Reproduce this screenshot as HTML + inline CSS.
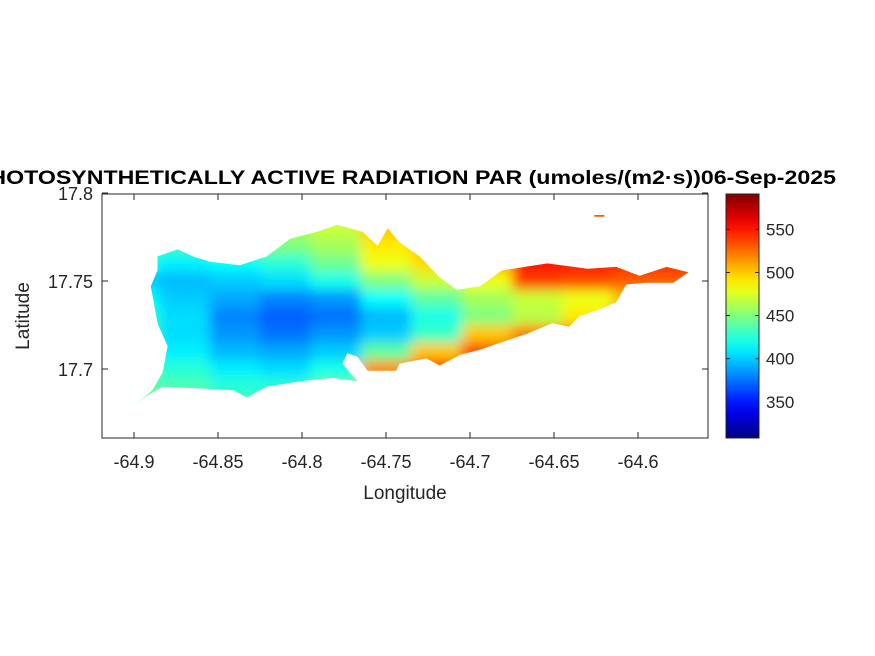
<!DOCTYPE html>
<html><head><meta charset="utf-8"><style>
html,body{margin:0;padding:0;background:#fff;width:875px;height:656px;overflow:hidden}
text{font-family:"Liberation Sans",Arial,sans-serif;fill:#262626}
</style></head><body>
<svg id="chart" width="875" height="656" viewBox="0 0 875 656" xmlns="http://www.w3.org/2000/svg">
<defs>
<filter id="blur" x="-10%" y="-10%" width="120%" height="120%"><feGaussianBlur stdDeviation="6" edgeMode="duplicate"/></filter>
<clipPath id="islandClip"><path id="clipPath"/></clipPath>
<clipPath id="axClip"><rect x="102" y="194" width="606" height="244"/></clipPath>
<linearGradient id="cbGrad" x1="0" y1="1" x2="0" y2="0"></linearGradient>
</defs>
<rect x="102" y="194" width="606" height="244" fill="#fff"/>
<g clip-path="url(#axClip)"><g clip-path="url(#islandClip)"><g id="cells" filter="url(#blur)"></g></g></g>
<path id="islet" fill="#f06010"/>
<rect x="102" y="194" width="606" height="244" fill="none" stroke="#262626" stroke-width="1"/>
<g id="xticks"></g><g id="yticks"></g>
<text x="405" y="499" text-anchor="middle" font-size="19">Longitude</text>
<text x="0" y="0" transform="translate(29,316) rotate(-90)" text-anchor="middle" font-size="19">Latitude</text>
<text x="405" y="184" text-anchor="middle" font-size="19" font-weight="bold" textLength="862" lengthAdjust="spacingAndGlyphs" style="fill:#000">PHOTOSYNTHETICALLY ACTIVE RADIATION PAR (umoles/(m2·s))06-Sep-2025</text>
<rect x="726" y="194" width="33" height="244" fill="url(#cbGrad)" stroke="#262626" stroke-width="1"/>
<g id="cbticks"></g>
</svg>
<script>
const lonTicks=[-64.9,-64.85,-64.8,-64.75,-64.7,-64.65,-64.6];
const lonTickLabels=["-64.9","-64.85","-64.8","-64.75","-64.7","-64.65","-64.6"];
const latTicks=[17.8,17.75,17.7];
const latTickLabels=["17.8","17.75","17.7"];
const cbTicks=[350,400,450,500,550];
const cbMin=308, cbMax=591;
const gridLon=[-64.90,-64.87,-64.84,-64.81,-64.78,-64.75,-64.72,-64.69,-64.66,-64.63,-64.60,-64.57];
const gridLat=[17.78,17.77,17.76,17.75,17.74,17.73,17.72,17.71,17.70,17.69,17.68];
const parValues=[
[440,440,450,460,470,500,500,510,530,540,540,540],
[430,430,440,450,460,490,500,510,550,550,550,550],
[420,410,415,425,445,480,495,505,550,550,545,545],
[400,395,400,405,420,450,470,480,540,535,530,530],
[415,400,390,380,385,415,440,460,470,480,505,505],
[425,405,380,370,375,395,420,450,465,490,515,515],
[425,405,385,375,385,400,430,500,520,525,520,520],
[425,410,395,390,400,440,500,535,535,530,520,520],
[435,425,410,405,420,515,540,540,535,525,520,520],
[440,435,425,425,440,525,535,535,525,520,520,520],
[445,440,430,430,440,515,525,525,520,520,520,520]];
const coastLon=[-64.899,-64.889,-64.883,-64.880,-64.886,-64.890,-64.886,-64.886,-64.874,-64.865,-64.855,-64.837,-64.821,-64.807,-64.791,-64.779,-64.764,-64.755,-64.749,-64.742,-64.730,-64.718,-64.708,-64.694,-64.681,-64.654,-64.630,-64.613,-64.599,-64.583,-64.570,-64.579,-64.595,-64.607,-64.613,-64.623,-64.635,-64.641,-64.651,-64.666,-64.682,-64.694,-64.706,-64.718,-64.726,-64.742,-64.744,-64.761,-64.767,-64.773,-64.776,-64.767,-64.782,-64.801,-64.821,-64.833,-64.841,-64.861,-64.883,-64.892];
const coastLat=[17.680,17.688,17.698,17.713,17.726,17.747,17.756,17.764,17.768,17.764,17.761,17.759,17.764,17.774,17.778,17.782,17.778,17.770,17.780,17.772,17.764,17.752,17.745,17.747,17.756,17.760,17.757,17.758,17.753,17.758,17.755,17.749,17.749,17.748,17.738,17.734,17.730,17.724,17.726,17.720,17.715,17.711,17.708,17.702,17.706,17.703,17.699,17.699,17.707,17.709,17.703,17.693,17.695,17.693,17.690,17.684,17.688,17.689,17.690,17.685];
const isletLon=[-64.626,-64.620,-64.620,-64.626];
const isletLat=[17.7875,17.7875,17.7865,17.7865];

const NS="http://www.w3.org/2000/svg";
function xS(lon){return 134+(lon+64.9)/0.05*84;}
function yS(lat){return 281-(lat-17.75)/0.05*88;}
function cS(v){return 438-(v-cbMin)/(cbMax-cbMin)*244;}
function jet(t){t=Math.max(0,Math.min(1,t));
 const r=Math.max(0,Math.min(1,1.5-Math.abs(4*t-3)));
 const g=Math.max(0,Math.min(1,1.5-Math.abs(4*t-2)));
 const b=Math.max(0,Math.min(1,1.5-Math.abs(4*t-1)));
 return `rgb(${Math.round(r*255)},${Math.round(g*255)},${Math.round(b*255)})`;}
function mk(tag,attrs,parent){const e=document.createElementNS(NS,tag);for(const k in attrs)e.setAttribute(k,attrs[k]);parent.appendChild(e);return e;}

let d=coastLon.map((lo,i)=>(i?'L':'M')+xS(lo).toFixed(1)+','+yS(coastLat[i]).toFixed(1)).join('')+'Z';
document.getElementById('clipPath').setAttribute('d',d);
document.getElementById('islet').setAttribute('d',isletLon.map((lo,i)=>(i?'L':'M')+xS(lo)+','+yS(isletLat[i])).join('')+'Z');

const cells=document.getElementById('cells');
const dLon=0.03,dLat=0.01;
parValues.forEach((row,r)=>row.forEach((v,c)=>{
 const x0=xS(gridLon[c]-dLon/2),x1=xS(gridLon[c]+dLon/2),y0=yS(gridLat[r]+dLat/2),y1=yS(gridLat[r]-dLat/2);
 const e=mk('rect',{x:x0,y:y0,width:x1-x0+0.5,height:y1-y0+0.5,fill:jet((v-cbMin)/(cbMax-cbMin))},cells);
 
 
}));

const grad=document.getElementById('cbGrad');
for(let i=0;i<=20;i++){mk('stop',{offset:(i/20*100)+'%','stop-color':jet(i/20)},grad);}

const xt=document.getElementById('xticks');
lonTicks.forEach((lo,i)=>{const x=xS(lo);
 mk('line',{x1:x,x2:x,y1:438,y2:432,stroke:'#262626'},xt);
 mk('line',{x1:x,x2:x,y1:194,y2:200,stroke:'#262626'},xt);
 const t=mk('text',{x:x,y:468,'text-anchor':'middle','font-size':18},xt);t.textContent=lonTickLabels[i];
 
 });
const yt=document.getElementById('yticks');
latTicks.forEach((la,i)=>{const y=yS(la);
 mk('line',{x1:102,x2:108,y1:y,y2:y,stroke:'#262626'},yt);
 mk('line',{x1:708,x2:702,y1:y,y2:y,stroke:'#262626'},yt);
 const t=mk('text',{x:93,y:y+7,'text-anchor':'end','font-size':18},yt);t.textContent=latTickLabels[i];
 
 });
const cb=document.getElementById('cbticks');
cbTicks.forEach(v=>{const y=cS(v);
 mk('line',{x1:726,x2:730,y1:y,y2:y,stroke:'#262626'},cb);
 mk('line',{x1:759,x2:755,y1:y,y2:y,stroke:'#262626'},cb);
 const t=mk('text',{x:766,y:y+6,'font-size':17},cb);t.textContent=v;
 
 });
</script>
</body></html>
